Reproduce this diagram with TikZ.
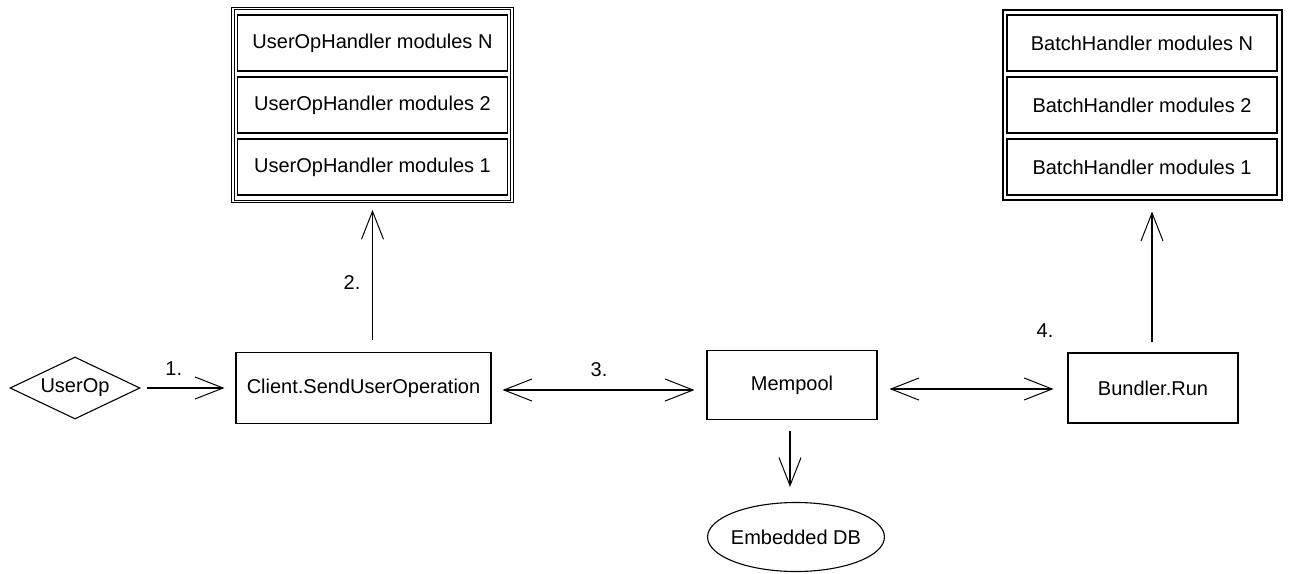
\documentclass[tikz,border=0pt]{standalone}
\usepackage{fontspec}
\setmainfont{Liberation Sans}
\usetikzlibrary{shapes.geometric, arrows.meta, positioning}

\begin{document}
\begin{tikzpicture}[x=1pt, y=-1pt, line width=1.1pt,
    font=\fontsize{20}{24}\selectfont,
    box/.style={draw, rectangle, inner sep=0pt},
    module/.style={box, minimum width=270pt, minimum height=56pt},
    open/.style={-{Straight Barb[length=28pt, width=22pt, line width=1pt]}},
    twoway/.style={{Straight Barb[length=28pt, width=22pt, line width=1pt]}-{Straight Barb[length=28pt, width=22pt, line width=1pt]}}]
\useasboundingbox (0,0) rectangle (1292,573);
%
\node[box, double, double distance=1.6pt, line width=.8pt,
      minimum width=279pt, minimum height=193pt] (uoframe) at (372.5,105) {};
\node[module] (uoN) at (372.5,43) {UserOpHandler modules N};
\node[module] (uo2) at (372.5,105) {UserOpHandler modules 2};
\node[module] (uo1) at (372.5,167) {UserOpHandler modules 1};
%
\node[box, minimum width=279pt, minimum height=190pt] (bhframe) at (1142.5,105) {};
\node[module] (bhN) at (1142,43) {BatchHandler modules N};
\node[module] (bh2) at (1142,105) {BatchHandler modules 2};
\node[module] (bh1) at (1142,167) {BatchHandler modules 1};
%
\node[draw, diamond, aspect=2.1, inner sep=0pt,
      minimum width=130pt, minimum height=62pt] (userop) at (75,388) {UserOp};
\node[box, minimum width=255pt, minimum height=71pt] (client) at (363.5,388) {Client.SendUserOperation};
\node[box, minimum width=170pt, minimum height=69pt] (mempool) at (792,385) {Mempool};
\node[box, minimum width=170pt, minimum height=70pt] (bundler) at (1153,388) {Bundler.Run};
\node[draw, ellipse, inner xsep=-2.5pt, inner ysep=14pt,
      minimum width=170pt, minimum height=69pt] (db) at (796,537) {Embedded DB};
%
\draw[open, shorten <=6pt, shorten >=11pt] (userop) -- node[pos=.35, above=9pt] {1.} (client);
\draw[open, shorten <=12pt, shorten >=8pt] (client.north -| uoframe.south) -- (uoframe.south);
\node at (352,283) {2.};
\draw[twoway, shorten <=11pt, shorten >=12pt] (client.east |- 0,390) -- node[above=9pt] {3.} (mempool.west |- 0,390);
\draw[open, shorten <=11pt, shorten >=15pt] (mempool.south -| 790,0) -- (db.north -| 790,0);
\draw[twoway, shorten <=12pt, shorten >=14pt] (mempool.east |- 0,389) -- (bundler.west |- 0,389);
\draw[open, shorten <=10pt, shorten >=11pt] (bundler.north -| 1152,0) -- (bhframe.south -| 1152,0);
\node at (1045,331) {4.};
\end{tikzpicture}
\end{document}
